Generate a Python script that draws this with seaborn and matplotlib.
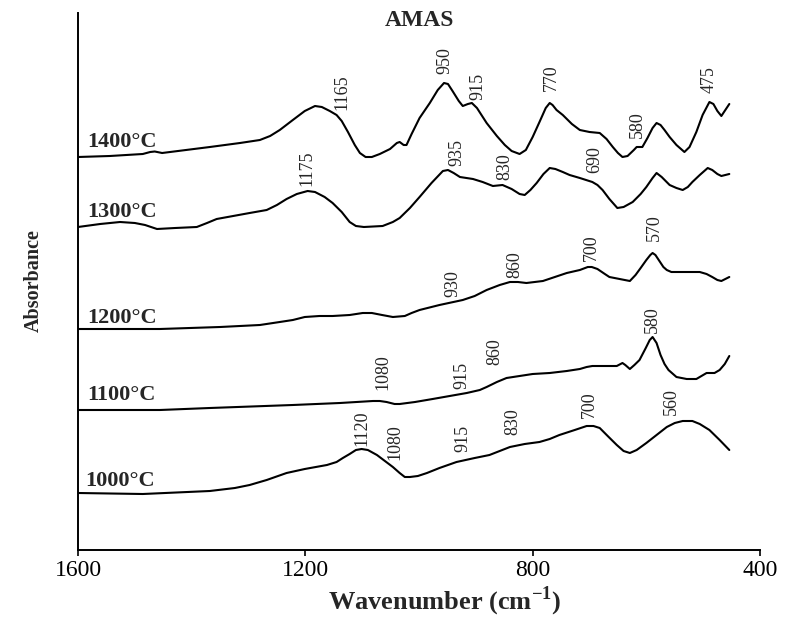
import numpy as np
import pandas as pd
import matplotlib
matplotlib.use("Agg")
import matplotlib.pyplot as plt
import seaborn as sns

# FTIR spectra of AMAS fired at different temperatures (stacked, arbitrary units)
wn_1400 = [1600, 1544, 1486, 1473, 1465, 1452, 1368, 1315, 1280, 1262, 1245, 1222, 1201, 1183,
           1171, 1157, 1145, 1136, 1125, 1113, 1104, 1094, 1083, 1069, 1051, 1039, 1034, 1027,
           1022, 1013, 999, 981, 967, 956, 949, 941, 930, 923, 914, 907, 898, 881, 863, 849,
           837, 823, 812, 800, 788, 777, 770, 765, 758, 747, 731, 717, 700, 682, 670, 659,
           650, 642, 633, 622, 617, 607, 598, 589, 582, 575, 568, 559, 547, 533, 524, 512,
           501, 489, 482, 475, 468, 461, 454]
ab_1400 = [3.93, 3.94, 3.96, 3.98, 3.985, 3.97, 4.03, 4.07, 4.10, 4.14, 4.20, 4.30, 4.39, 4.44,
           4.43, 4.39, 4.35, 4.29, 4.18, 4.05, 3.97, 3.93, 3.93, 3.96, 4.01, 4.07, 4.08, 4.05,
           4.05, 4.16, 4.32, 4.47, 4.60, 4.67, 4.66, 4.59, 4.49, 4.44, 4.46, 4.47, 4.42, 4.27,
           4.14, 4.05, 3.99, 3.96, 4.00, 4.13, 4.28, 4.42, 4.47, 4.45, 4.40, 4.35, 4.26, 4.20,
           4.18, 4.17, 4.11, 4.03, 3.97, 3.93, 3.94, 4.00, 4.03, 4.03, 4.12, 4.22, 4.27, 4.25,
           4.20, 4.13, 4.05, 3.98, 4.03, 4.18, 4.35, 4.48, 4.46, 4.39, 4.34, 4.40, 4.46]

wn_1300 = [1600, 1561, 1526, 1500, 1482, 1461, 1429, 1391, 1373, 1356, 1327, 1298, 1268, 1250,
           1233, 1215, 1196, 1183, 1166, 1152, 1136, 1122, 1111, 1097, 1064, 1046, 1034, 1016,
           999, 978, 958, 949, 939, 928, 905, 888, 870, 853, 837, 823, 814, 804, 793, 781,
           770, 760, 747, 735, 717, 695, 686, 677, 665, 651, 640, 624, 610, 600, 589, 582,
           573, 559, 547, 536, 527, 519, 506, 492, 484, 475, 468, 461, 454]
ab_1300 = [3.23, 3.26, 3.28, 3.27, 3.25, 3.21, 3.22, 3.23, 3.27, 3.31, 3.34, 3.37, 3.40, 3.45,
           3.51, 3.56, 3.59, 3.58, 3.53, 3.47, 3.38, 3.28, 3.24, 3.23, 3.24, 3.28, 3.32, 3.42,
           3.53, 3.67, 3.79, 3.80, 3.77, 3.73, 3.71, 3.68, 3.64, 3.65, 3.61, 3.56, 3.55, 3.60,
           3.67, 3.76, 3.82, 3.81, 3.78, 3.75, 3.72, 3.68, 3.65, 3.60, 3.51, 3.42, 3.43, 3.48,
           3.56, 3.63, 3.72, 3.77, 3.73, 3.65, 3.62, 3.60, 3.63, 3.68, 3.75, 3.82, 3.80, 3.76,
           3.74, 3.75, 3.76]

wn_1200 = [1600, 1456, 1350, 1280, 1245, 1222, 1201, 1175, 1152, 1122, 1099, 1083, 1065, 1046,
           1025, 1013, 999, 964, 923, 902, 881, 858, 840, 826, 811, 782, 761, 740, 717, 703,
           696, 686, 673, 665, 647, 629, 619, 610, 600, 593, 589, 584, 577, 570, 564, 556,
           547, 524, 506, 494, 484, 475, 468, 461, 454]
ab_1200 = [2.21, 2.21, 2.23, 2.25, 2.28, 2.30, 2.33, 2.34, 2.34, 2.35, 2.37, 2.37, 2.35, 2.33,
           2.34, 2.37, 2.40, 2.45, 2.50, 2.54, 2.60, 2.65, 2.68, 2.68, 2.67, 2.69, 2.73, 2.77,
           2.80, 2.83, 2.83, 2.81, 2.76, 2.73, 2.71, 2.69, 2.75, 2.82, 2.90, 2.95, 2.97, 2.95,
           2.89, 2.83, 2.80, 2.78, 2.78, 2.78, 2.78, 2.76, 2.73, 2.70, 2.69, 2.71, 2.73]

wn_1100 = [1600, 1456, 1368, 1222, 1139, 1081, 1069, 1057, 1043, 1034, 1007, 976, 946, 916,
           893, 881, 863, 846, 823, 800, 770, 740, 717, 705, 695, 673, 652, 642, 637, 629,
           621, 612, 601, 594, 589, 582, 575, 568, 561, 547, 529, 512, 503, 494, 480, 471,
           462, 454]
ab_1100 = [1.40, 1.40, 1.42, 1.45, 1.47, 1.49, 1.49, 1.48, 1.46, 1.46, 1.48, 1.51, 1.54, 1.57,
           1.60, 1.63, 1.68, 1.72, 1.74, 1.76, 1.77, 1.79, 1.81, 1.83, 1.84, 1.84, 1.84, 1.87,
           1.85, 1.81, 1.85, 1.90, 2.02, 2.10, 2.13, 2.07, 1.95, 1.86, 1.80, 1.73, 1.71, 1.71,
           1.74, 1.77, 1.77, 1.80, 1.86, 1.94]

wn_1000 = [1600, 1486, 1368, 1324, 1298, 1268, 1233, 1201, 1162, 1145, 1134, 1122, 1111, 1101,
           1090, 1074, 1060, 1046, 1034, 1025, 1016, 1002, 986, 964, 934, 902, 876, 858, 840,
           814, 788, 770, 753, 726, 705, 693, 682, 668, 652, 640, 629, 617, 600, 582, 564,
           550, 536, 519, 506, 489, 471, 454]
ab_1000 = [0.57, 0.56, 0.59, 0.62, 0.65, 0.70, 0.77, 0.81, 0.85, 0.88, 0.92, 0.96, 1.00, 1.01,
           1.00, 0.95, 0.89, 0.83, 0.77, 0.73, 0.73, 0.74, 0.77, 0.82, 0.88, 0.92, 0.95, 0.99,
           1.03, 1.06, 1.08, 1.11, 1.15, 1.20, 1.24, 1.24, 1.22, 1.14, 1.05, 0.99, 0.97, 1.00,
           1.07, 1.15, 1.23, 1.27, 1.29, 1.29, 1.26, 1.20, 1.10, 1.00]

temperatures = ["1400°C", "1300°C", "1200°C", "1100°C", "1000°C"]
spectra = [(wn_1400, ab_1400), (wn_1300, ab_1300), (wn_1200, ab_1200),
           (wn_1100, ab_1100), (wn_1000, ab_1000)]

# Band assignments written above each spectrum
peaks_1400 = ["1165", "950", "915", "770", "580", "475"]
peaks_1300 = ["1175", "935", "830", "690"]
peaks_1200 = ["930", "860", "700", "570"]
peaks_1100 = ["1080", "915", "860", "580"]
peaks_1000 = ["1120", "1080", "915", "830", "700", "560"]

# where each band label sits (wavenumber, absorbance)
peak_pos_1400 = [(1136, 4.58), (955, 4.89), (897, 4.64), (767, 4.72), (615, 4.25), (489, 4.70)]
peak_pos_1300 = [(1197, 3.82), (934, 3.97), (849, 3.83), (691, 3.90)]
peak_pos_1200 = [(941, 2.66), (832, 2.85), (696, 3.02), (586, 3.22)]
peak_pos_1100 = [(1064, 1.78), (925, 1.75), (867, 1.98), (589, 2.30)]
peak_pos_1000 = [(1101, 1.22), (1043, 1.08), (923, 1.12), (835, 1.28), (700, 1.45), (556, 1.48)]

temp_label_pos = [(1584, 4.03), (1584, 3.33), (1584, 2.27), (1584, 1.50), (1588, 0.64)]

frames = []
for temp, (wn, ab) in zip(temperatures, spectra):
    frames.append(pd.DataFrame({"wavenumber": wn, "absorbance": ab, "temp": temp}))
df = pd.concat(frames, ignore_index=True)

sns.set_theme(style="ticks")
plt.rcParams["font.family"] = ["Liberation Serif", "DejaVu Serif"]
plt.rcParams["mathtext.fontset"] = "custom"
plt.rcParams["mathtext.rm"] = "Liberation Serif"
plt.rcParams["mathtext.bf"] = "Liberation Serif:bold"

fig = plt.figure(figsize=(7.86, 6.19), dpi=100)
ax = fig.add_axes([78 / 786, 1 - 550 / 619, (760 - 78) / 786, (550 - 13) / 619])

sns.lineplot(data=df, x="wavenumber", y="absorbance", units="temp", estimator=None,
             sort=False, color="black", linewidth=1.5, ax=ax, legend=False)
for line in ax.lines:
    line.set_solid_joinstyle("round")
    line.set_solid_capstyle("round")

ax.set_xlim(1600, 400)
ax.set_ylim(0, 5.37)
ax.set_xticks([1600, 1200, 800, 400])
ax.set_xticklabels(["1600", "1200", "800", "400"], fontsize=17)
ax.set_yticks([])
ax.set_xlabel("")
ax.set_ylabel("")
ax.tick_params(axis="x", direction="out", length=4, width=1.2, pad=3, colors="black")
for side in ["top", "right"]:
    ax.spines[side].set_visible(False)
for side in ["left", "bottom"]:
    ax.spines[side].set_color("black")
    ax.spines[side].set_linewidth(1.4)

for temp, (x, y) in zip(temperatures, temp_label_pos):
    ax.text(x, y, temp, fontsize=16, fontweight="bold", ha="left", va="baseline")

all_peaks = [(peaks_1400, peak_pos_1400), (peaks_1300, peak_pos_1300),
             (peaks_1200, peak_pos_1200), (peaks_1100, peak_pos_1100),
             (peaks_1000, peak_pos_1000)]
for labels, positions in all_peaks:
    for lab, (x, y) in zip(labels, positions):
        ax.text(x, y, lab, fontsize=13, rotation=90, ha="center", va="center")

fig.text(419 / 786, 1 - 20 / 619, "AMAS", fontsize=17, fontweight="bold",
         ha="center", va="center")
fig.text(34 / 786, 1 - 281 / 619, "Absorbance", fontsize=14.5, fontweight="bold",
         rotation=90, ha="center", va="center")
fig.text(445 / 786, 1 - 601 / 619, r"Wavenumber (cm$^{\mathbf{-1}}$)", fontsize=19,
         fontweight="bold", ha="center", va="center")

fig.savefig("out.png", dpi=100, facecolor="white")
